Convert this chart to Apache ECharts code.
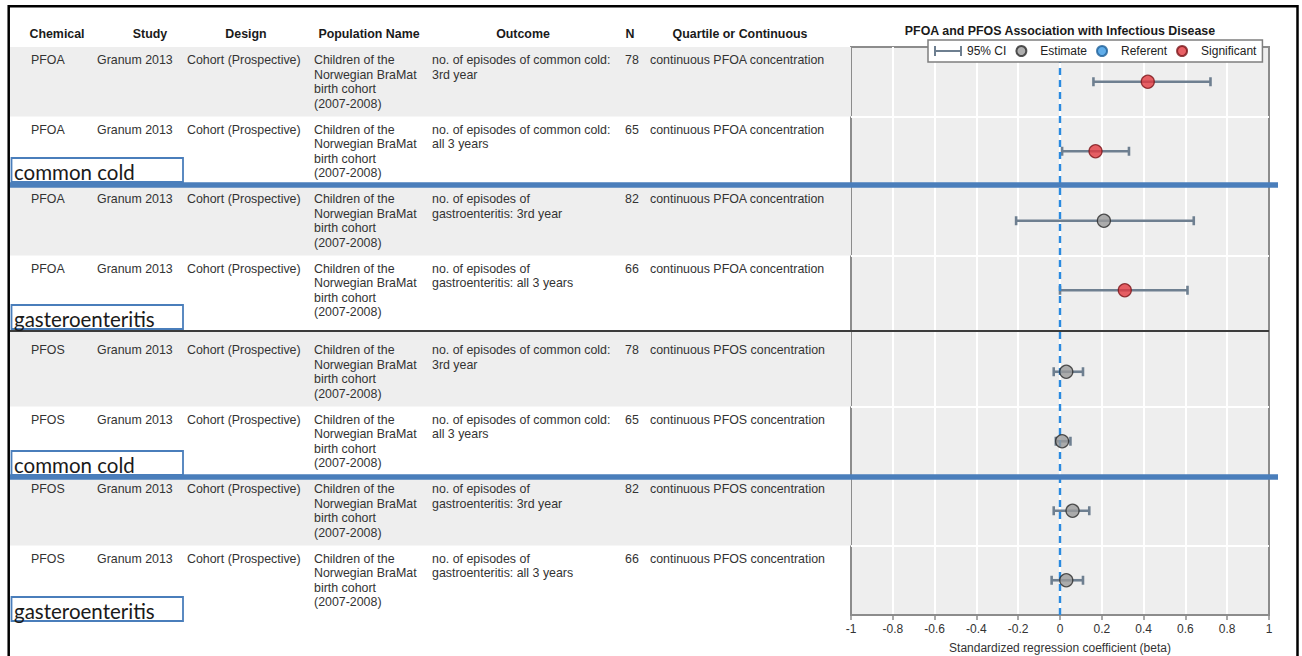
<!DOCTYPE html>
<html>
<head>
<meta charset="utf-8">
<title>PFOA and PFOS Association with Infectious Disease</title>
<script src="https://cdn.jsdelivr.net/npm/echarts@6/dist/echarts.min.js"></script>
<style>
  html, body { margin: 0; padding: 0; background: #fff; }
  #chart { width: 1302px; height: 656px; }
</style>
</head>
<body>
<div id="chart"></div>
<script>
// ---------- table content ----------
const columnHeaders = ['Chemical', 'Study', 'Design', 'Population Name', 'Outcome', 'N', 'Quartile or Continuous'];
const chemicals = ['PFOA', 'PFOA', 'PFOA', 'PFOA', 'PFOS', 'PFOS', 'PFOS', 'PFOS'];
const studies = ['Granum 2013', 'Granum 2013', 'Granum 2013', 'Granum 2013',
                 'Granum 2013', 'Granum 2013', 'Granum 2013', 'Granum 2013'];
const designs = ['Cohort (Prospective)', 'Cohort (Prospective)', 'Cohort (Prospective)', 'Cohort (Prospective)',
                 'Cohort (Prospective)', 'Cohort (Prospective)', 'Cohort (Prospective)', 'Cohort (Prospective)'];
const populations = [
  'Children of the\nNorwegian BraMat\nbirth cohort\n(2007-2008)',
  'Children of the\nNorwegian BraMat\nbirth cohort\n(2007-2008)',
  'Children of the\nNorwegian BraMat\nbirth cohort\n(2007-2008)',
  'Children of the\nNorwegian BraMat\nbirth cohort\n(2007-2008)',
  'Children of the\nNorwegian BraMat\nbirth cohort\n(2007-2008)',
  'Children of the\nNorwegian BraMat\nbirth cohort\n(2007-2008)',
  'Children of the\nNorwegian BraMat\nbirth cohort\n(2007-2008)',
  'Children of the\nNorwegian BraMat\nbirth cohort\n(2007-2008)'
];
const outcomes = [
  'no. of episodes of common cold:\n3rd year',
  'no. of episodes of common cold:\nall 3 years',
  'no. of episodes of\ngastroenteritis: 3rd year',
  'no. of episodes of\ngastroenteritis: all 3 years',
  'no. of episodes of common cold:\n3rd year',
  'no. of episodes of common cold:\nall 3 years',
  'no. of episodes of\ngastroenteritis: 3rd year',
  'no. of episodes of\ngastroenteritis: all 3 years'
];
const sampleSizes = [78, 65, 82, 66, 78, 65, 82, 66];
const exposures = [
  'continuous PFOA concentration', 'continuous PFOA concentration',
  'continuous PFOA concentration', 'continuous PFOA concentration',
  'continuous PFOS concentration', 'continuous PFOS concentration',
  'continuous PFOS concentration', 'continuous PFOS concentration'
];

// ---------- effect estimates (standardized beta, 95% CI) ----------
const estimates   = [0.42, 0.17, 0.21, 0.31, 0.03, 0.01, 0.06, 0.03];
const ciLower     = [0.16, 0.01, -0.21, 0.00, -0.03, -0.02, -0.03, -0.04];
const ciUpper     = [0.72, 0.33, 0.64, 0.61, 0.11, 0.05, 0.14, 0.11];
const significant = [true, true, false, true, false, false, false, false];

const groupLabels = ['common cold', 'gasteroenteritis', 'common cold', 'gasteroenteritis'];
const legendNames = ['95% CI', 'Estimate', 'Referent', 'Significant'];
const chartTitle = 'PFOA and PFOS Association with Infectious Disease';
const xAxisName = 'Standardized regression coefficient (beta)';

// ---------- layout ----------
const FONT = "'Liberation Sans', Arial, sans-serif";
const TEXT_SIZE = 12.4;
const LINE_H = 14.5;
const PLOT_LEFT = 851, PLOT_WIDTH = 418;
const PLOT_TOP = 47, PLOT_BOTTOM = 615;
const panels = [{ top: 47, height: 278 }, { top: 337, height: 278 }];
const ROWS_PER_PANEL = 4;
const colX = [31, 97, 187, 314, 432, 625, 650];
const headerX = [57, 150, 246, 369, 523, 630, 740];
const HEADER_Y = 34;
const TABLE_LEFT = 10;
const labelBoxTops = [158, 305, 451, 597];
const blueRuleY = [185, 477];
const BLACK_RULE_Y = 331;

const CI_COLOR = '#6e7f90';
const GREY_FILL = '#9a9a9a';
const RED_FILL = '#e23a40';
const BLUE_FILL = '#3a98e4';

const rowKeys = chemicals.map((c, i) => c + ' | ' + outcomes[i].replace('\n', ' '));

function rowCenter(idx) {
  const p = panels[Math.floor(idx / ROWS_PER_PANEL)];
  const h = p.height / ROWS_PER_PANEL;
  return p.top + (idx % ROWS_PER_PANEL + 0.5) * h;
}

// ---------- graphic: table, rules, group labels, frame ----------
const elements = [];

// row bands
for (let idx = 0; idx < chemicals.length; idx++) {
  const g = Math.floor(idx / ROWS_PER_PANEL);
  const p = panels[g];
  const h = p.height / ROWS_PER_PANEL;
  let y0 = p.top + (idx % ROWS_PER_PANEL) * h;
  let y1 = y0 + h;
  if (g === 1 && idx % ROWS_PER_PANEL === 0) y0 = BLACK_RULE_Y + 1;
  if (idx % 2 === 0) {
    elements.push({
      type: 'rect', z: 0, silent: true,
      shape: { x: TABLE_LEFT, y: y0, width: PLOT_LEFT - TABLE_LEFT, height: y1 - y0 },
      style: { fill: '#eeeeee' }
    });
  }
}

// header
columnHeaders.forEach((t, c) => {
  elements.push({
    type: 'text', z: 5, silent: true,
    style: {
      text: t, x: headerX[c], y: HEADER_Y, align: 'center', verticalAlign: 'middle',
      fontFamily: FONT, fontSize: TEXT_SIZE, fontWeight: 'bold', fill: '#1a1a1a'
    }
  });
});

// body cells
const columns = [chemicals, studies, designs, populations, outcomes, sampleSizes, exposures];
for (let idx = 0; idx < chemicals.length; idx++) {
  const top = rowCenter(idx) - 21.5 - LINE_H / 2;
  columns.forEach((col, c) => {
    elements.push({
      type: 'text', z: 5, silent: true,
      style: {
        text: String(col[idx]), x: colX[c], y: top, align: 'left', verticalAlign: 'top',
        lineHeight: LINE_H, fontFamily: FONT, fontSize: TEXT_SIZE, fill: '#333333'
      }
    });
  });
}

// separator rules
blueRuleY.forEach(y => {
  elements.push({
    type: 'line', z: 20, silent: true,
    shape: { x1: TABLE_LEFT, y1: y, x2: 1278, y2: y },
    style: { stroke: '#4a7ebb', lineWidth: 5.5 }
  });
});
elements.push({
  type: 'line', z: 20, silent: true,
  shape: { x1: TABLE_LEFT, y1: BLACK_RULE_Y, x2: PLOT_LEFT + PLOT_WIDTH, y2: BLACK_RULE_Y },
  style: { stroke: '#3c3c3c', lineWidth: 2 }
});

// outcome group labels
groupLabels.forEach((t, i) => {
  elements.push({
    type: 'rect', z: 21, silent: true,
    shape: { x: 11.5, y: labelBoxTops[i], width: 171.5, height: 24 },
    style: { fill: '#ffffff', stroke: '#4a7ebb', lineWidth: 1.8 }
  });
  elements.push({
    type: 'text', z: 22, silent: true,
    style: {
      text: t, x: 14, y: labelBoxTops[i] + 13.5, align: 'left', verticalAlign: 'middle',
      fontFamily: "Lato, 'Open Sans', sans-serif", fontSize: 20.5, fill: '#1a1a1a'
    }
  });
});

// outer frame
elements.push({
  type: 'polyline', z: 30, silent: true,
  shape: { points: [[8.7, 660], [8.7, 6.2], [1297.5, 6.2], [1297.5, 660]] },
  style: { stroke: '#000000', lineWidth: 2.5, fill: null }
});

// ---------- series ----------
function renderCI(params, api) {
  const cat = api.value(2);
  const p0 = api.coord([api.value(0), cat]);
  const p1 = api.coord([api.value(1), cat]);
  const cap = 4.5;
  const style = { stroke: CI_COLOR, lineWidth: 2.6, fill: null };
  return {
    type: 'group',
    children: [
      { type: 'line', shape: { x1: p0[0], y1: p0[1], x2: p1[0], y2: p1[1] }, style },
      { type: 'line', shape: { x1: p0[0], y1: p0[1] - cap, x2: p0[0], y2: p0[1] + cap }, style },
      { type: 'line', shape: { x1: p1[0], y1: p1[1] - cap, x2: p1[0], y2: p1[1] + cap }, style }
    ]
  };
}

const series = [];
// full-height panel: zero reference line
series.push({
  name: 'zero', type: 'line', xAxisIndex: 0, yAxisIndex: 0,
  data: [[0, 0.5]], showSymbol: false, silent: true, z: 3,
  lineStyle: { opacity: 0 },
  markLine: {
    silent: true, symbol: 'none', label: { show: false },
    lineStyle: { color: '#2a8ae0', width: 2.4, type: [7, 5] },
    data: [{ xAxis: 0 }]
  }
});

panels.forEach((p, g) => {
  const rows = [];
  for (let i = 0; i < ROWS_PER_PANEL; i++) rows.push(g * ROWS_PER_PANEL + i);
  series.push({
    name: '95% CI', type: 'custom', xAxisIndex: g + 1, yAxisIndex: g + 1, z: 4,
    renderItem: renderCI, itemStyle: { color: CI_COLOR },
    encode: { x: [0, 1], y: 2 },
    data: rows.map(r => [ciLower[r], ciUpper[r], rowKeys[r]])
  });
  series.push({
    name: 'Estimate', type: 'scatter', xAxisIndex: g + 1, yAxisIndex: g + 1, z: 6,
    symbolSize: 13,
    itemStyle: { color: GREY_FILL, borderColor: '#2b2b2b', borderWidth: 1.3 },
    data: rows.filter(r => !significant[r]).map(r => [estimates[r], rowKeys[r]])
  });
  series.push({
    name: 'Referent', type: 'scatter', xAxisIndex: g + 1, yAxisIndex: g + 1, z: 6,
    symbolSize: 13,
    itemStyle: { color: BLUE_FILL, borderColor: '#1d5f99', borderWidth: 1.3 },
    data: []
  });
  series.push({
    name: 'Significant', type: 'scatter', xAxisIndex: g + 1, yAxisIndex: g + 1, z: 6,
    symbolSize: 13,
    itemStyle: { color: RED_FILL, borderColor: '#7a1418', borderWidth: 1.3 },
    data: rows.filter(r => significant[r]).map(r => [estimates[r], rowKeys[r]])
  });
});

// ---------- axes ----------
const grids = [
  {
    left: PLOT_LEFT, width: PLOT_WIDTH, top: PLOT_TOP, height: PLOT_BOTTOM - PLOT_TOP,
    show: true, backgroundColor: '#eeeeee', borderColor: '#8c8c8c', borderWidth: 2,
    containLabel: false, outerBoundsMode: 'none'
  }
].concat(panels.map(p => ({
  left: PLOT_LEFT, width: PLOT_WIDTH, top: p.top, height: p.height,
  containLabel: false, outerBoundsMode: 'none'
})));

const xAxes = [{
  type: 'value', gridIndex: 0, min: -1, max: 1, interval: 0.2,
  name: xAxisName, nameLocation: 'middle', nameGap: 27,
  nameTextStyle: { fontFamily: FONT, fontSize: 12, color: '#333' },
  axisLine: { show: true, lineStyle: { color: '#8c8c8c', width: 2 } },
  axisTick: { show: true, length: 5, lineStyle: { color: '#8c8c8c', width: 1.5 } },
  axisLabel: { margin: 8, fontFamily: FONT, fontSize: 12, color: '#333' },
  splitLine: { show: true, showMinLine: false, showMaxLine: false,
               lineStyle: { color: '#ffffff', width: 2 } }
}].concat(panels.map((p, g) => ({
  type: 'value', gridIndex: g + 1, min: -1, max: 1, interval: 0.2, show: false
})));

const yAxes = [{
  type: 'value', gridIndex: 0, min: 0, max: 1, show: false
}].concat(panels.map((p, g) => ({
  type: 'category', gridIndex: g + 1, inverse: true,
  data: rowKeys.slice(g * ROWS_PER_PANEL, (g + 1) * ROWS_PER_PANEL),
  axisLine: { show: false }, axisTick: { show: false }, axisLabel: { show: false },
  splitLine: { show: true, interval: 0, showMinLine: false, showMaxLine: false,
               lineStyle: { color: '#ffffff', width: 2 } }
})));

const chart = echarts.init(document.getElementById('chart'), null, { renderer: 'svg' });
chart.setOption({
  animation: false,
  backgroundColor: '#ffffff',
  title: {
    text: chartTitle, left: PLOT_LEFT + PLOT_WIDTH / 2, top: 25, textAlign: 'center', padding: 0,
    textStyle: { fontFamily: FONT, fontSize: TEXT_SIZE, fontWeight: 'bold', color: '#1a1a1a' }
  },
  legend: {
    left: 928, top: 40, orient: 'horizontal', selectedMode: false,
    itemWidth: 28, itemHeight: 10, itemGap: 9, padding: [5, 6],
    backgroundColor: '#ffffff', borderColor: '#7f7f7f', borderWidth: 1.5, z: 10,
    textStyle: { fontFamily: FONT, fontSize: 12, color: '#222' },
    data: [
      { name: legendNames[0], icon: 'path://M0,0h2v10h-2z M2,4h24v2h-24z M26,0h2v10h-2z' },
      { name: legendNames[1], icon: 'circle' },
      { name: legendNames[2], icon: 'circle' },
      { name: legendNames[3], icon: 'circle' }
    ]
  },
  grid: grids,
  xAxis: xAxes,
  yAxis: yAxes,
  series: series,
  graphic: { elements: elements }
});
</script>
</body>
</html>
